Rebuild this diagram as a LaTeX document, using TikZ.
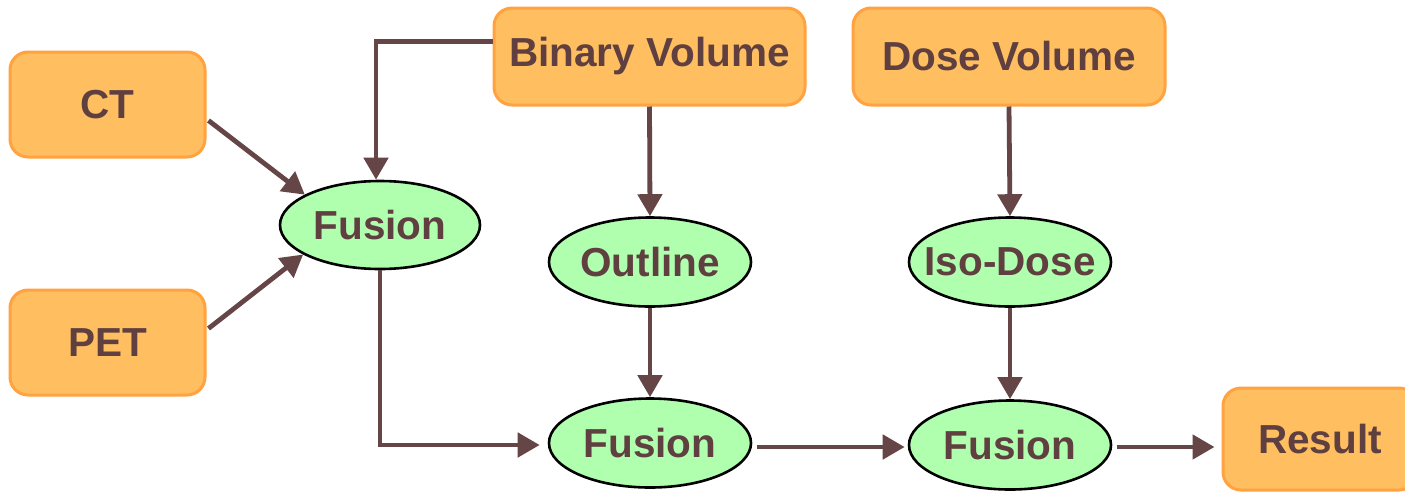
\documentclass[tikz,border=0pt]{standalone}
\usepackage{fontspec}
\setmainfont{Liberation Sans}
\usetikzlibrary{arrows.meta,shapes.geometric,calc}
\definecolor{boxfill}{HTML}{FFBF60}
\definecolor{boxline}{HTML}{FFA23F}
\definecolor{opfill}{HTML}{AFFFAF}
\definecolor{ink}{HTML}{5F3F3F}
\definecolor{wire}{HTML}{654545}
\newcommand{\optext}[1]{\makebox[0pt]{#1}}
\begin{document}
\begin{tikzpicture}[x=1pt,y=-1pt,
  every node/.style={font=\fontsize{40.5}{48}\selectfont\bfseries, text=ink},
  databox/.style={draw=boxline, fill=boxfill, line width=3pt, rounded corners=18pt,
    inner sep=0pt},
  opnode/.style={ellipse, draw=black, fill=opfill, line width=2.6pt, inner sep=0pt,
    minimum width=202pt, minimum height=89pt},
  flow/.style={draw=wire, line width=4.8pt,
    -{Triangle[length=22pt,width=24pt]}}]
\clip (0,0) rectangle (1405,493);
\fill[white] (0,0) rectangle (1405,493);

% data sources and result
\node[databox, minimum width=195pt, minimum height=105pt] (ct) at (107.5,104.5) {CT};
\node[databox, minimum width=195pt, minimum height=105pt] (pet) at (107.5,342.5) {PET};
\node[databox, minimum width=311pt, minimum height=97pt] (bin) at (649.5,56.5) {Binary Volume};
\node[databox, minimum width=312pt, minimum height=97pt] (dose) at (1009,56.5) {Dose Volume};
\node[databox, minimum width=194pt, minimum height=102pt] (res) at (1320,439) {Result};

% processing steps
\node[opnode, minimum width=200pt, minimum height=88pt] (fa) at (380,225) {\optext{Fusion}};
\node[opnode] (outl) at (650,262) {\optext{Outline}};
\node[opnode] (iso) at (1010,262) {\optext{Iso-Dose}};
\node[opnode] (fb) at (650,443) {\optext{Fusion}};
\node[opnode] (fc) at (1010,445) {\optext{Fusion}};

% connectors
\draw[flow] ([xshift=2pt,yshift=-16pt]ct.east) -- (fa.158);
\draw[flow] ([xshift=2pt,yshift=14pt]pet.east) -- (fa.201);
\draw[flow] ([yshift=15pt]bin.west) -| ([xshift=-4pt]fa.north);
\draw[flow, shorten >=8pt] (fa.south) |- ([yshift=-2pt]fb.west);
\draw[flow] (bin.south) -- (outl.north);
\draw[flow] (outl.south) -- (fb.north);
\draw[flow] (dose.south) -- (iso.north);
\draw[flow] (iso.south) -- (fc.north);
\draw[flow, shorten <=5pt, shorten >=3pt] ([yshift=-4pt]fb.east) -- ([yshift=-2pt]fc.west);
\draw[flow, shorten <=5pt, shorten >=7pt] ([yshift=-2pt]fc.east) -- ([yshift=-2pt]fc.east -| res.west);
\end{tikzpicture}
\end{document}
